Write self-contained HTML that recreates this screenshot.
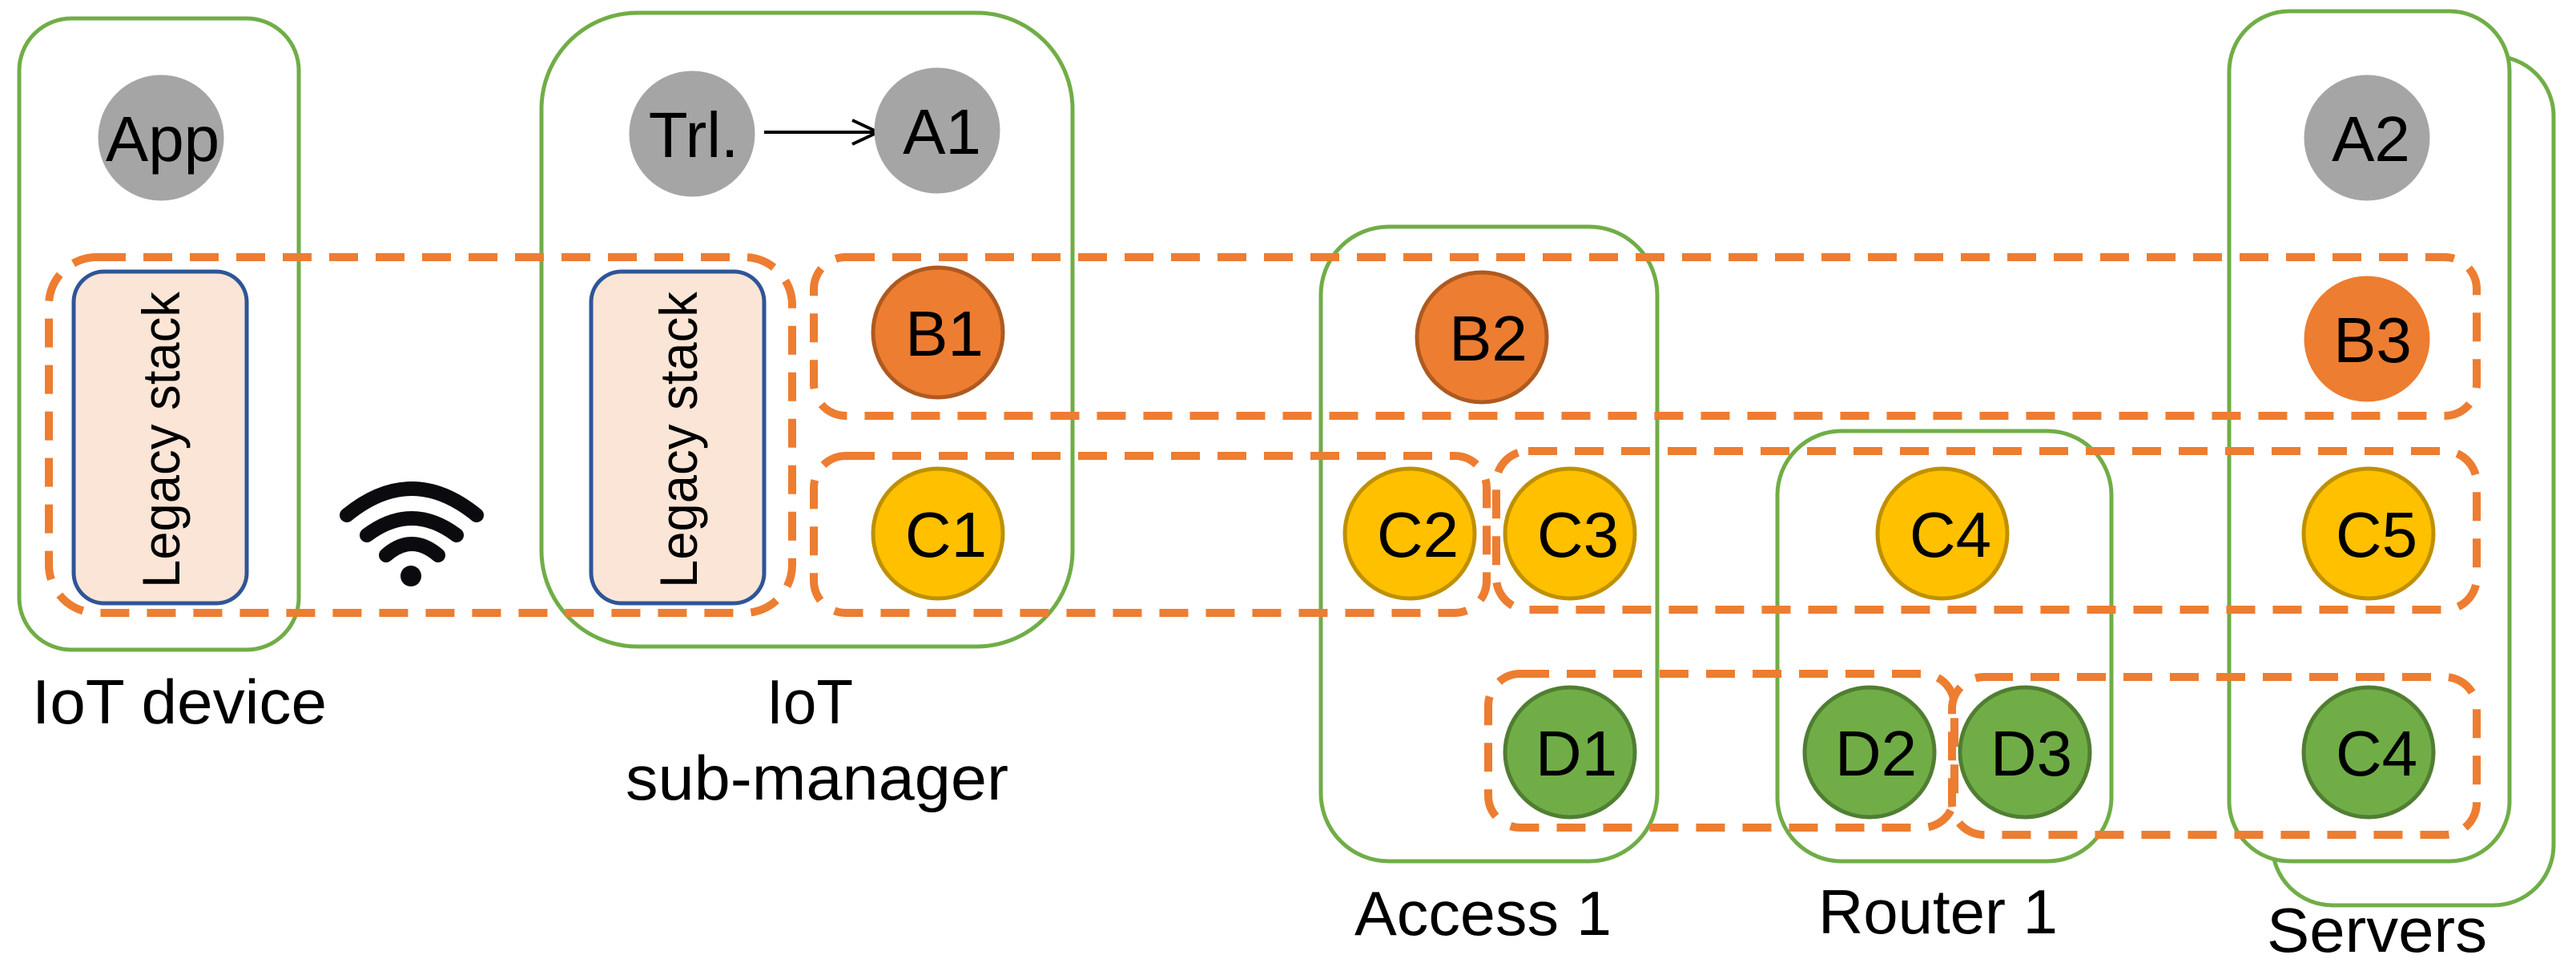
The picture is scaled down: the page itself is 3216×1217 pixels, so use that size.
<!DOCTYPE html>
<html><head><meta charset="utf-8"><style>html,body{margin:0;padding:0;background:#fff}svg{display:block}</style></head>
<body>
<svg width="3216" height="1217" viewBox="0 0 3216 1217" xmlns="http://www.w3.org/2000/svg" font-family="Liberation Sans, Arial, sans-serif">
<rect width="3216" height="1217" fill="#fff"/>
<g fill="none" stroke="#70ad47" stroke-width="5">
<rect x="24" y="23" width="349" height="788" rx="65"/>
<rect x="676" y="16" width="663" height="791" rx="120"/>
<rect x="1649" y="283" width="420" height="792" rx="85"/>
<rect x="2219" y="538" width="417" height="537" rx="80"/>
<rect x="2837" y="70" width="351" height="1060" rx="75" fill="#fff"/>
<rect x="2783" y="14" width="350" height="1061" rx="75" fill="#fff"/>
</g>
<g fill="#fbe5d6" stroke="#2f5597" stroke-width="5">
<rect x="92" y="339" width="216" height="414" rx="38"/>
<rect x="738" y="339" width="216" height="414" rx="38"/>
</g>
<g font-size="66" fill="#000" text-anchor="middle">
<text transform="translate(224,549) rotate(-90)" textLength="370" lengthAdjust="spacingAndGlyphs">Legacy stack</text>
<text transform="translate(870,549) rotate(-90)" textLength="370" lengthAdjust="spacingAndGlyphs">Legacy stack</text>
</g>
<g fill="none" stroke="#ed7d31" stroke-width="10" stroke-dasharray="36 22">
<rect x="61" y="321" width="928" height="444" rx="60"/>
<rect x="1016" y="321" width="2076" height="198" rx="40"/>
<rect x="1016" y="569" width="840" height="196" rx="40"/>
<rect x="1868" y="563" width="1224" height="198" rx="40"/>
<rect x="1858" y="841" width="582" height="192" rx="40"/>
<rect x="2437" y="845" width="655" height="197" rx="40"/>
</g>
<line x1="954" y1="165" x2="1092" y2="165" stroke="#000" stroke-width="4"/>
<polyline points="1064,150 1096,165 1064,180" fill="none" stroke="#000" stroke-width="4"/>
<g stroke-width="5">
<circle cx="201" cy="172" r="76" fill="#a5a5a5" stroke="#a5a5a5"/>
<circle cx="864" cy="167" r="76" fill="#a5a5a5" stroke="#a5a5a5"/>
<circle cx="1170" cy="163" r="76" fill="#a5a5a5" stroke="#a5a5a5"/>
<circle cx="2955" cy="172" r="76" fill="#a5a5a5" stroke="#a5a5a5"/>
<circle cx="1171" cy="415" r="81" fill="#ed7d31" stroke="#ae5a21"/>
<circle cx="1850" cy="421" r="81" fill="#ed7d31" stroke="#ae5a21"/>
<circle cx="2955" cy="423" r="76" fill="#ed7d31" stroke="#ed7d31"/>
<circle cx="1171" cy="666" r="81" fill="#ffc000" stroke="#bf9000"/>
<circle cx="1760" cy="666" r="81" fill="#ffc000" stroke="#bf9000"/>
<circle cx="1960" cy="666" r="81" fill="#ffc000" stroke="#bf9000"/>
<circle cx="2425" cy="666" r="81" fill="#ffc000" stroke="#bf9000"/>
<circle cx="2957" cy="666" r="81" fill="#ffc000" stroke="#bf9000"/>
<circle cx="1960" cy="939" r="81" fill="#70ad47" stroke="#507e32"/>
<circle cx="2334" cy="939" r="81" fill="#70ad47" stroke="#507e32"/>
<circle cx="2528" cy="939" r="81" fill="#70ad47" stroke="#507e32"/>
<circle cx="2957" cy="939" r="81" fill="#70ad47" stroke="#507e32"/>
</g>
<g font-size="80" fill="#000" text-anchor="middle">
<text x="203" y="201">App</text>
<text x="866" y="196">Trl.</text>
<text x="1176" y="192">A1</text>
<text x="2960" y="201">A2</text>
<text x="1179" y="444">B1</text>
<text x="1858" y="450">B2</text>
<text x="2962" y="452">B3</text>
<text x="1181" y="695">C1</text>
<text x="1770" y="695">C2</text>
<text x="1970" y="695">C3</text>
<text x="2435" y="695">C4</text>
<text x="2967" y="695">C5</text>
<text x="1968" y="968">D1</text>
<text x="2342" y="968">D2</text>
<text x="2536" y="968">D3</text>
<text x="2967" y="968">C4</text>
</g>
<g fill="none" stroke="#0a0a0f" stroke-width="18" stroke-linecap="round">
<path d="M433,643 Q514,577 595,643"/>
<path d="M458,668 Q514,626 570,668"/>
<path d="M482,693 Q514,665 547,693"/>
</g>
<circle cx="513" cy="719" r="13" fill="#0a0a0f"/>
<g font-size="78" fill="#000">
<text x="40" y="903" textLength="368" lengthAdjust="spacingAndGlyphs">IoT device</text>
<text x="957" y="903" textLength="108" lengthAdjust="spacingAndGlyphs">IoT</text>
<text x="781" y="998" textLength="478" lengthAdjust="spacingAndGlyphs">sub-manager</text>
<text x="1691" y="1167" textLength="321" lengthAdjust="spacingAndGlyphs">Access 1</text>
<text x="2270" y="1165" textLength="299" lengthAdjust="spacingAndGlyphs">Router 1</text>
<text x="2830" y="1188" textLength="275" lengthAdjust="spacingAndGlyphs">Servers</text>
</g>
</svg>
</body></html>
